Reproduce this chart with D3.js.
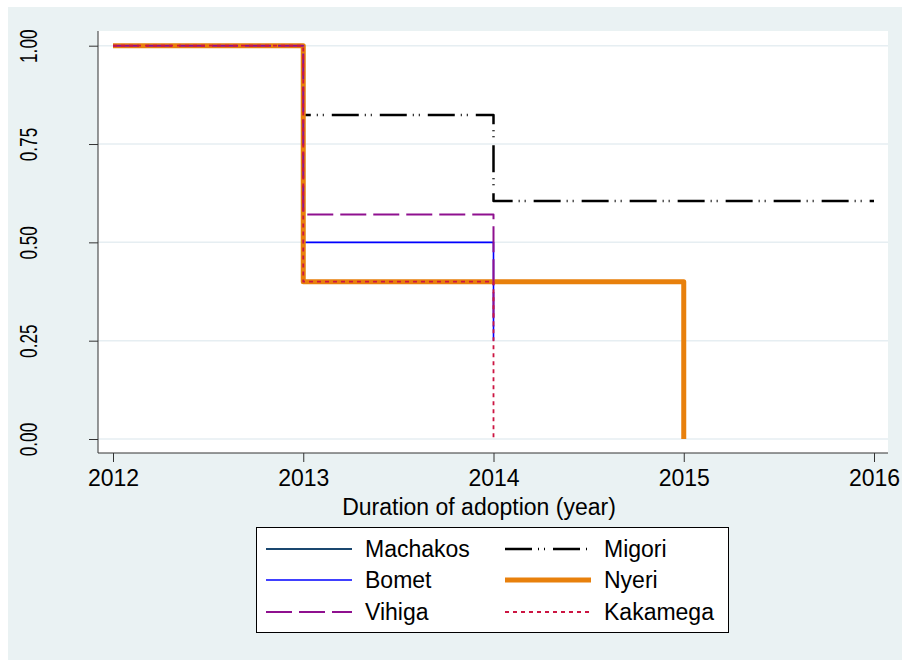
<!DOCTYPE html>
<html>
  <head>
    <title>Duration of adoption by county</title>
    <style>
      body,
      html {
        margin: 0;
        background: #fff;
      }
      svg text {
        font-family: 'Liberation Sans', Arial, sans-serif;
        fill: #000;
      }
    </style>
  </head>
  <body>
    <svg id="svg" width="902" height="660"></svg>
    <script src="https://cdn.jsdelivr.net/npm/d3@7"></script>
    <script>
      // Kaplan-Meier style step curves, one per county (drawing order = Stata legend order)
      const counties = ['Machakos', 'Migori', 'Bomet', 'Nyeri', 'Vihiga', 'Kakamega'];
      const machakosYears = [2012, 2013, 2015];
      const machakosSurv = [1, 0.4, 0.4];
      const migoriYears = [2012, 2013, 2014, 2016];
      const migoriSurv = [1, 0.824, 0.605, 0.605];
      const bometYears = [2012, 2013, 2014];
      const bometSurv = [1, 0.5, 0.25];
      const nyeriYears = [2012, 2013, 2015];
      const nyeriSurv = [1, 0.4, 0];
      const vihigaYears = [2012, 2013, 2014];
      const vihigaSurv = [1, 0.571, 0.286];
      const kakamegaYears = [2012, 2013, 2014];
      const kakamegaSurv = [1, 0.4, 0];

      const xTicks = [2012, 2013, 2014, 2015, 2016];
      const yTicks = [0, 0.25, 0.5, 0.75, 1];

      const series = [
        { name: 'Machakos', years: machakosYears, surv: machakosSurv, color: '#1a476f', width: 2, dash: null },
        { name: 'Migori', years: migoriYears, surv: migoriSurv, color: '#000', width: 2.5, dash: '27,6,1,5,1,8' },
        { name: 'Bomet', years: bometYears, surv: bometSurv, color: '#0000ff', width: 1.6, dash: null },
        { name: 'Nyeri', years: nyeriYears, surv: nyeriSurv, color: '#e8800c', width: 5, dash: null },
        { name: 'Vihiga', years: vihigaYears, surv: vihigaSurv, color: '#8f108f', width: 2, dash: '26,7' },
        { name: 'Kakamega', years: kakamegaYears, surv: kakamegaSurv, color: '#cc1542', width: 1.8, dash: '4,4' }
      ];

      const svg = d3.select('#svg');
      const plot = { left: 98, top: 31, right: 888, bottom: 453 };
      const fontSize = 23;

      // graph region background
      svg.append('rect').attr('x', 8).attr('y', 7).attr('width', 894).attr('height', 653).attr('fill', '#eaf2f3');
      svg
        .append('rect')
        .attr('x', plot.left)
        .attr('y', plot.top)
        .attr('width', plot.right - plot.left)
        .attr('height', plot.bottom - plot.top)
        .attr('fill', '#fff');

      const x = d3.scaleLinear().domain([2012, 2016]).range([113, 874]);
      const y = d3.scaleLinear().domain([0, 1]).range([439, 45.7]);

      // grid
      svg
        .append('g')
        .selectAll('line')
        .data(yTicks)
        .enter()
        .append('line')
        .attr('x1', plot.left)
        .attr('x2', plot.right)
        .attr('y1', (d) => y(d))
        .attr('y2', (d) => y(d))
        .attr('stroke', '#e6eef2')
        .attr('stroke-width', 1.5);

      // curves
      const line = d3
        .line()
        .x((d) => x(d[0]))
        .y((d) => y(d[1]))
        .curve(d3.curveStepAfter);

      svg
        .append('g')
        .selectAll('path')
        .data(series)
        .enter()
        .append('path')
        .attr('d', (s) => line(s.years.map((t, i) => [t, s.surv[i]])))
        .attr('fill', 'none')
        .attr('stroke', (s) => s.color)
        .attr('stroke-width', (s) => s.width)
        .attr('stroke-dasharray', (s) => s.dash)
        .attr('stroke-linejoin', 'round');

      // axes
      const xAxis = svg
        .append('g')
        .attr('transform', `translate(0, ${plot.bottom})`)
        .call(d3.axisBottom(x).tickValues(xTicks).tickFormat(d3.format('d')).tickSizeInner(9).tickSizeOuter(0).tickPadding(8));
      xAxis.select('.domain').remove();
      xAxis.selectAll('line').attr('stroke', '#333');
      xAxis.selectAll('text').attr('font-size', fontSize).style('font-family', "'Liberation Sans', Arial, sans-serif");

      const yAxis = svg
        .append('g')
        .attr('transform', `translate(${plot.left}, 0)`)
        .call(d3.axisLeft(y).tickValues(yTicks).tickFormat(d3.format('.2f')).tickSizeInner(9).tickSizeOuter(0));
      yAxis.select('.domain').remove();
      yAxis.selectAll('line').attr('stroke', '#333');
      yAxis
        .selectAll('text')
        .attr('x', null)
        .attr('dy', null)
        .attr('text-anchor', 'middle')
        .attr('font-size', fontSize)
        .style('font-family', "'Liberation Sans', Arial, sans-serif")
        .attr('transform', `translate(${37 - plot.left}, 0) rotate(-90) scale(0.75, 1)`);

      svg
        .append('line')
        .attr('x1', plot.left)
        .attr('x2', plot.left)
        .attr('y1', plot.top)
        .attr('y2', plot.bottom)
        .attr('stroke', '#333');
      svg
        .append('line')
        .attr('x1', plot.left)
        .attr('x2', plot.right)
        .attr('y1', plot.bottom)
        .attr('y2', plot.bottom)
        .attr('stroke', '#333');

      svg
        .append('text')
        .attr('x', 479)
        .attr('y', 515)
        .attr('text-anchor', 'middle')
        .attr('font-size', fontSize)
        .text('Duration of adoption (year)');

      // legend, two columns filled row by row
      const legend = svg.append('g');
      legend
        .append('rect')
        .attr('x', 256.5)
        .attr('y', 527.5)
        .attr('width', 472)
        .attr('height', 105)
        .attr('fill', '#fff')
        .attr('stroke', '#000');

      const colX = [266, 505];
      const rowY = [549, 580, 612];
      const items = legend
        .selectAll('g')
        .data(series)
        .enter()
        .append('g')
        .attr('transform', (d, i) => `translate(${colX[i % 2]}, ${rowY[Math.floor(i / 2)]})`);
      items
        .append('line')
        .attr('x1', 0)
        .attr('x2', 86)
        .attr('stroke', (s) => s.color)
        .attr('stroke-width', (s) => s.width)
        .attr('stroke-dasharray', (s) => s.dash);
      items
        .append('text')
        .attr('x', 99)
        .attr('y', 8)
        .attr('font-size', fontSize)
        .text((s) => s.name);
    </script>
  </body>
</html>
